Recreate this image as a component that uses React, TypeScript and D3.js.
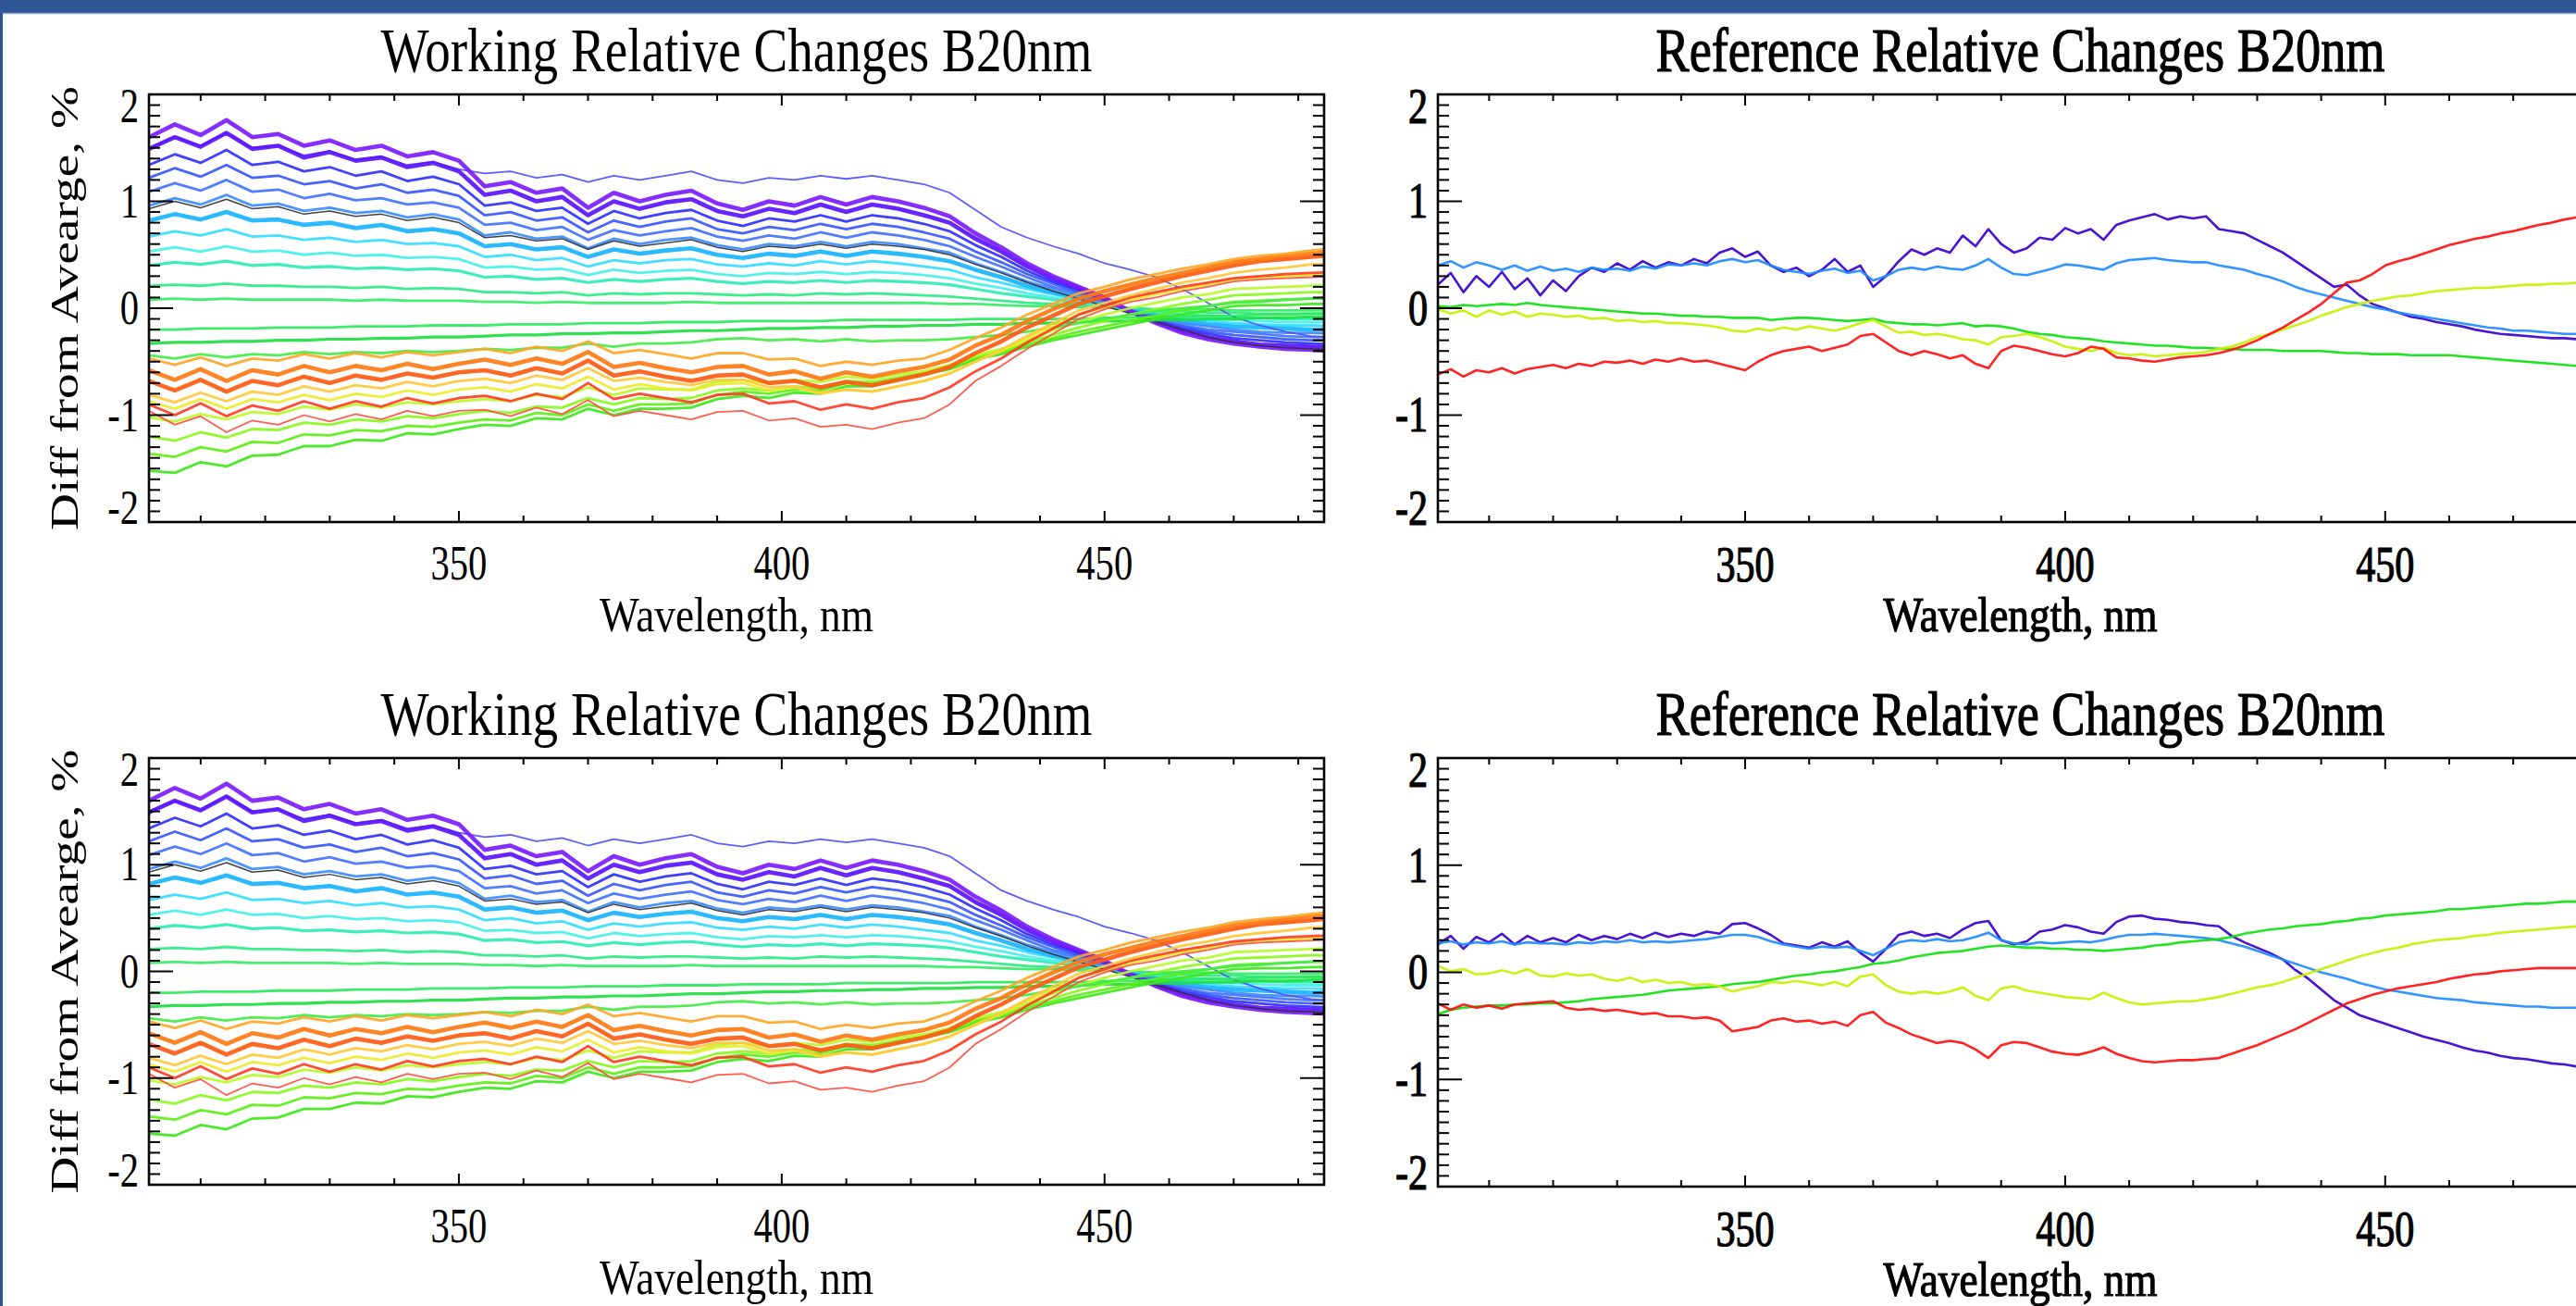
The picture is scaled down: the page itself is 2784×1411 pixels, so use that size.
import React from 'react';
import * as d3 from 'd3';

// sample grids, nm
const wlWork = d3.range(302, 487, 4);
const wlRef = d3.range(302, 481, 2);

// Working relative changes (hundredths of a percent), one array per curve
const work_u1 = [160,172,162,176,160,163,152,157,148,152,142,146,138,114,118,108,112,94,108,100,106,110,98,92,100,96,104,97,104,100,94,86,70,57,42,30,20,10,-3,-14,-23,-29,-33,-36,-38,-39,-40];
const work_u2 = [149,160,151,164,149,152,141,146,138,141,132,136,128,106,110,100,104,87,100,93,99,102,91,86,93,89,97,90,97,93,87,80,65,53,39,28,19,9,-3,-13,-21,-27,-31,-34,-35,-36,-37];
const work_u0 = [150,160,152,164,150,152,143,147,139,142,134,137,130,126,128,122,125,118,124,120,124,128,120,117,122,120,124,121,124,120,116,108,92,76,66,58,51,42,36,29,18,5,-8,-16,-22,-26,-28];
const work_u3 = [134,144,136,148,134,137,128,132,124,128,119,123,116,96,99,91,94,79,91,84,89,92,82,77,84,81,87,81,87,84,79,72,59,48,35,25,17,8,-3,-12,-19,-24,-28,-30,-32,-33,-34];
const work_u4 = [122,131,123,134,122,124,116,119,112,116,108,111,105,87,90,82,85,71,82,76,81,84,74,70,76,73,79,74,79,76,71,65,53,43,32,23,15,8,-2,-11,-17,-22,-25,-27,-29,-30,-30];
const work_u5 = [109,117,110,120,109,111,103,107,101,103,97,99,94,78,80,73,76,64,73,68,72,75,67,63,68,65,71,66,71,68,64,58,48,39,29,20,14,7,-2,-10,-16,-20,-22,-24,-26,-27,-27];
const work_u6 = [96,103,97,106,96,98,91,94,89,91,85,88,83,68,71,65,67,56,65,60,64,66,59,55,60,58,62,58,62,60,56,52,42,34,25,18,12,6,-2,-8,-14,-17,-20,-22,-23,-23,-24];
const work_u7 = [82,88,83,90,82,83,78,80,75,78,72,74,70,58,60,55,57,48,55,51,54,56,50,47,51,49,53,49,53,51,48,44,36,29,21,15,10,5,-2,-7,-12,-15,-17,-18,-19,-20,-20];
const work_u8 = [67,72,68,74,67,68,64,66,62,64,60,61,58,48,50,45,47,39,45,42,45,46,41,39,42,40,44,41,44,42,39,36,29,24,18,13,8,4,-1,-6,-10,-12,-14,-15,-16,-16,-17];
const work_u9 = [53,57,53,58,53,54,50,52,49,50,47,48,46,38,39,36,37,31,36,33,35,36,32,30,33,32,34,32,34,33,31,28,23,19,14,10,7,3,-1,-5,-8,-10,-11,-12,-13,-13,-13];
const work_u10 = [40,43,41,44,40,41,38,39,37,38,36,37,35,29,30,27,28,24,27,25,27,28,25,23,25,24,26,24,26,25,24,22,18,14,11,8,5,3,-1,-4,-6,-7,-8,-9,-10,-10,-10];
const work_u11 = [21,22,21,23,21,21,20,20,19,20,18,19,18,15,15,14,15,12,14,13,14,14,13,12,13,12,14,13,14,13,12,11,9,7,5,4,3,1,0,-2,-3,-4,-4,-5,-5,-5,-5];
const work_u12 = [8,9,8,9,8,8,8,8,7,8,7,7,7,6,6,5,6,5,5,5,5,6,5,5,5,5,5,5,5,5,5,4,4,3,2,2,1,1,0,-1,-1,-1,-2,-2,-2,-2,-2];
const work_avg = [93,100,94,102,93,95,88,91,86,88,82,85,80,66,68,63,65,55,63,58,61,64,57,53,58,56,60,56,60,58,55,50,41,33,24,16,9,2,-5,-13,-20,-27,-32,-35,-37,-38,-39];
const work_f1 = [-20,-20,-19,-19,-19,-18,-18,-18,-17,-17,-17,-16,-16,-16,-15,-15,-15,-14,-14,-14,-13,-13,-13,-12,-12,-12,-12,-11,-11,-11,-11,-11,-10,-10,-10,-10,-10,-9,-9,-8,-8,-7,-7,-6,-6,-5,-5];
const work_f2 = [-33,-32,-32,-31,-31,-30,-30,-29,-29,-28,-28,-27,-27,-26,-25,-25,-24,-24,-23,-23,-22,-21,-21,-20,-19,-19,-18,-18,-17,-17,-16,-16,-15,-15,-14,-14,-13,-12,-12,-11,-11,-10,-10,-9,-9,-8,-8];
const work_l1 = [-44,-47,-43,-46,-43,-44,-41,-43,-41,-42,-40,-41,-40,-38,-39,-37,-37,-33,-36,-33,-33,-32,-29,-28,-30,-29,-31,-29,-31,-30,-30,-29,-27,-25,-22,-18,-14,-10,-6,-3,0,2,5,6,8,9,10];
const work_l2 = [-47,-53,-46,-54,-47,-49,-43,-47,-42,-46,-41,-44,-41,-38,-42,-36,-40,-31,-42,-39,-43,-47,-42,-42,-48,-47,-54,-50,-53,-49,-47,-39,-28,-18,-6,4,14,20,27,32,37,41,46,49,51,54,56];
const work_l3 = [-58,-67,-57,-68,-58,-62,-54,-60,-54,-58,-52,-57,-52,-48,-53,-47,-52,-41,-55,-51,-56,-60,-55,-54,-62,-59,-66,-60,-64,-59,-55,-48,-35,-25,-12,-1,9,16,22,28,33,38,43,46,49,51,53];
const work_l4 = [-68,-77,-67,-78,-68,-72,-64,-70,-63,-67,-61,-65,-60,-58,-63,-56,-61,-49,-63,-59,-64,-68,-63,-62,-70,-68,-74,-69,-72,-67,-62,-55,-42,-31,-18,-7,4,11,18,24,30,35,40,44,46,48,50];
const work_l5 = [-81,-88,-79,-87,-78,-81,-73,-78,-72,-75,-69,-73,-68,-66,-70,-63,-67,-56,-68,-65,-69,-72,-67,-67,-74,-73,-79,-76,-78,-73,-68,-61,-50,-39,-26,-14,-2,5,12,18,24,28,33,36,38,41,42];
const work_l6 = [-90,-100,-89,-101,-91,-96,-87,-94,-87,-92,-84,-89,-84,-82,-87,-80,-85,-70,-85,-80,-84,-88,-81,-80,-89,-87,-95,-90,-94,-88,-84,-74,-59,-47,-32,-19,-6,2,10,15,20,24,28,30,32,33,34];
const work_l7 = [-96,-109,-101,-116,-105,-109,-100,-106,-99,-104,-96,-101,-96,-95,-101,-93,-99,-86,-101,-96,-100,-104,-97,-96,-105,-103,-111,-109,-113,-107,-103,-90,-68,-54,-38,-24,-10,-1,6,10,16,20,25,27,28,29,30];
const work_l8 = [-87,-94,-85,-94,-85,-88,-81,-86,-80,-83,-77,-81,-76,-74,-78,-71,-75,-64,-76,-71,-75,-77,-71,-70,-77,-74,-80,-76,-78,-73,-68,-61,-50,-40,-28,-17,-6,1,8,13,18,22,27,29,30,31,32];
const work_l9 = [-102,-106,-99,-104,-97,-99,-92,-95,-90,-93,-88,-90,-87,-85,-87,-81,-83,-74,-81,-75,-76,-76,-69,-67,-70,-67,-69,-64,-66,-62,-59,-53,-44,-38,-30,-21,-13,-6,0,5,10,13,18,19,20,21,22];
const work_l10 = [-120,-124,-116,-121,-113,-114,-107,-109,-104,-106,-101,-103,-99,-96,-98,-92,-93,-84,-90,-84,-85,-84,-77,-75,-77,-73,-75,-68,-69,-65,-61,-55,-45,-40,-32,-25,-18,-12,-6,-1,4,8,12,13,14,15,15];
const work_l11 = [-136,-139,-130,-134,-125,-126,-118,-119,-114,-115,-110,-111,-107,-104,-105,-98,-100,-90,-96,-90,-90,-89,-81,-78,-80,-76,-77,-70,-70,-65,-61,-55,-46,-41,-34,-28,-22,-17,-12,-7,-2,2,6,7,8,9,9];
const work_l12 = [-152,-154,-144,-148,-138,-137,-129,-129,-123,-124,-117,-118,-113,-109,-110,-103,-104,-94,-100,-94,-94,-93,-85,-82,-84,-79,-80,-73,-73,-67,-62,-57,-48,-43,-36,-30,-25,-20,-15,-10,-6,-2,2,3,3,4,4];

// Reference relative changes, top panel
const refTop_violet = [22,33,15,30,20,34,18,28,12,26,16,30,38,34,42,36,44,38,43,40,46,42,52,56,48,53,40,34,38,30,36,46,34,40,20,30,44,55,50,56,52,68,58,74,60,52,56,66,64,75,70,74,64,78,82,85,88,83,86,84,86,74,72,70,64,58,52,44,36,28,20,22,12,4,0,-4,-8,-10,-13,-15,-17,-20,-22,-24,-25,-26,-27,-28,-28,-29];
const refTop_blue = [40,44,38,43,40,36,40,35,39,35,37,34,38,36,37,35,39,37,41,40,42,40,44,46,43,45,40,36,34,32,35,37,33,35,26,30,36,38,36,39,37,36,40,46,38,32,31,34,37,41,40,38,36,42,45,46,47,45,44,43,43,40,38,36,32,29,25,20,16,13,10,7,4,1,-1,-4,-6,-8,-10,-12,-14,-16,-18,-19,-21,-21,-22,-23,-24,-24];
const refTop_green = [2,1,3,2,3,4,3,5,3,2,1,0,-1,-2,-3,-4,-5,-5,-6,-7,-7,-8,-8,-9,-9,-9,-11,-10,-9,-9,-10,-11,-12,-11,-10,-13,-14,-15,-15,-16,-15,-14,-17,-16,-17,-19,-22,-24,-25,-27,-28,-29,-31,-32,-33,-34,-35,-35,-36,-37,-37,-38,-38,-39,-39,-39,-40,-40,-40,-40,-41,-42,-42,-43,-43,-43,-44,-44,-44,-44,-45,-46,-47,-48,-49,-50,-51,-52,-53,-54];
const refTop_yellow = [-1,-5,-2,-8,-2,-6,-3,-8,-5,-6,-8,-7,-10,-9,-12,-11,-13,-12,-14,-14,-15,-16,-18,-21,-22,-19,-21,-18,-20,-17,-19,-21,-18,-14,-11,-17,-23,-22,-25,-24,-26,-29,-30,-34,-27,-26,-24,-27,-31,-36,-38,-40,-37,-42,-44,-43,-45,-44,-43,-42,-41,-38,-36,-32,-27,-24,-20,-16,-12,-7,-3,1,4,7,9,11,12,14,16,17,18,19,19,20,21,22,22,23,23,24];
const refTop_red = [-62,-57,-64,-58,-60,-56,-61,-57,-55,-53,-56,-52,-54,-50,-51,-49,-52,-48,-50,-47,-50,-49,-52,-55,-58,-50,-44,-40,-38,-36,-40,-37,-34,-26,-24,-32,-40,-44,-40,-43,-47,-44,-52,-56,-40,-35,-37,-40,-43,-45,-42,-36,-38,-46,-47,-49,-50,-48,-46,-45,-44,-42,-39,-35,-30,-24,-18,-11,-4,4,14,24,26,32,40,44,47,51,55,59,62,65,67,70,72,75,78,80,83,85];

// Reference relative changes, bottom panel
const refBot_violet = [26,34,22,33,28,36,26,34,28,32,28,35,30,34,31,36,32,37,33,36,34,38,36,45,46,41,35,27,25,23,28,24,29,18,10,22,35,38,34,36,32,40,46,48,30,26,29,38,40,44,42,38,36,47,52,53,50,49,47,46,44,43,34,28,23,18,12,2,-6,-16,-26,-33,-40,-44,-48,-52,-56,-60,-63,-66,-70,-73,-75,-78,-80,-81,-83,-85,-86,-88];
const refBot_blue = [27,29,26,28,27,29,26,28,27,27,26,28,27,29,28,30,28,29,28,29,30,31,33,35,35,33,29,26,24,22,24,23,24,20,16,22,28,30,29,31,29,30,33,37,30,27,26,28,27,28,29,28,30,33,35,35,36,35,34,33,32,30,27,24,20,16,12,8,4,0,-3,-6,-10,-13,-16,-18,-20,-22,-24,-25,-26,-28,-29,-30,-31,-32,-32,-33,-33,-33];
const refBot_green = [-39,-35,-33,-32,-31,-31,-30,-30,-29,-29,-28,-27,-25,-24,-23,-22,-21,-19,-17,-16,-15,-14,-13,-11,-10,-9,-7,-5,-3,-2,0,1,3,5,8,9,11,14,16,18,19,20,22,24,25,24,23,23,22,22,21,21,20,21,22,23,25,26,28,29,30,31,33,36,38,40,41,43,44,45,47,48,50,51,53,54,55,56,57,59,59,60,61,62,63,64,64,65,66,66];
const refBot_yellow = [6,1,3,-2,-1,2,-1,3,-3,-4,-1,-3,-2,-6,-8,-5,-9,-7,-10,-9,-12,-11,-13,-18,-15,-13,-9,-10,-8,-10,-12,-9,-13,-4,-2,-12,-18,-20,-18,-20,-18,-14,-22,-26,-15,-13,-17,-19,-21,-23,-24,-25,-19,-24,-28,-30,-29,-28,-27,-27,-25,-23,-20,-17,-14,-12,-9,-5,-1,3,7,11,15,18,21,23,26,28,30,31,32,34,35,37,38,39,40,41,42,43];
const refBot_red = [-29,-35,-30,-33,-31,-34,-30,-29,-28,-27,-33,-35,-34,-36,-35,-37,-39,-38,-41,-41,-43,-42,-45,-55,-53,-51,-45,-43,-46,-45,-48,-46,-50,-40,-37,-47,-52,-58,-62,-66,-64,-66,-72,-80,-68,-65,-66,-70,-74,-76,-77,-74,-70,-76,-80,-83,-84,-83,-82,-82,-81,-80,-76,-72,-68,-63,-58,-53,-47,-41,-35,-29,-25,-21,-18,-15,-13,-11,-9,-6,-4,-2,-1,1,2,3,4,4,4,4];

type Series = { vals: number[]; color: string; width: number };

const workSeries: Series[] = [
  { vals: work_u12, color: '#36ec66', width: 2.8 },
  { vals: work_u11, color: '#2aec86', width: 2.8 },
  { vals: work_u10, color: '#2cecb4', width: 3.2 },
  { vals: work_u9, color: '#45f0ea', width: 2.8 },
  { vals: work_u8, color: '#35dcff', width: 2.8 },
  { vals: work_u7, color: '#1ab4ff', width: 4.6 },
  { vals: work_u6, color: '#3c8cff', width: 2.8 },
  { vals: work_u5, color: '#4472ff', width: 2.8 },
  { vals: work_u4, color: '#3a56ff', width: 2.8 },
  { vals: work_u3, color: '#3030ff', width: 2.8 },
  { vals: work_u0, color: '#5050ff', width: 1.8 },
  { vals: work_u2, color: '#5a12ff', width: 4.6 },
  { vals: work_u1, color: '#7b1cff', width: 4.6 },
  { vals: work_avg, color: '#333333', width: 1.5 },
  { vals: work_f1, color: '#2ee85c', width: 2.8 },
  { vals: work_f2, color: '#1ede40', width: 3.2 },
  { vals: work_l12, color: '#3ce818', width: 2.8 },
  { vals: work_l11, color: '#5cf014', width: 2.8 },
  { vals: work_l10, color: '#88f81c', width: 2.8 },
  { vals: work_l9, color: '#b8fa2a', width: 2.8 },
  { vals: work_l1, color: '#44ec48', width: 2.8 },
  { vals: work_l8, color: '#ecec2c', width: 2.8 },
  { vals: work_l7, color: '#ff5040', width: 1.8 },
  { vals: work_l6, color: '#ff3c24', width: 2.8 },
  { vals: work_l5, color: '#ffc83a', width: 2.8 },
  { vals: work_l4, color: '#ff5a12', width: 4.6 },
  { vals: work_l3, color: '#ff7a14', width: 4.6 },
  { vals: work_l2, color: '#ffa628', width: 2.8 },
];

const refColors = ['#3a00d0', '#1e8cff', '#10e010', '#c8f000', '#ff1010'];
const refTopSeries: Series[] = [refTop_violet, refTop_blue, refTop_green, refTop_yellow, refTop_red]
  .map((vals, i) => ({ vals, color: refColors[i], width: 2.6 }));
const refBotSeries: Series[] = [refBot_violet, refBot_blue, refBot_green, refBot_yellow, refBot_red]
  .map((vals, i) => ({ vals, color: refColors[i], width: 2.6 }));

const SERIF = '"Liberation Serif", "Times New Roman", serif';

function Panel({ left, right, top, bottom, title, titleWidth, grid, series, yLabel, heavy, id }: any) {
  const x = d3.scaleLinear().domain([302, 484]).range([left, right]);
  const y = d3.scaleLinear().domain([-2, 2]).range([bottom, top]);
  const line = d3.line<number>().x((_, i) => x(grid[i])).y(d => y(d / 100));

  const xMajor = x.ticks(3);
  const xMinor = x.ticks(18).filter(t => !xMajor.includes(t));
  const yMajor = y.ticks(4);
  const yMinor = y.ticks(40).filter(t => Math.abs(t - Math.round(t)) > 1e-6);
  const cx = (left + right) / 2;
  const ink = heavy ? { stroke: '#000', strokeWidth: 1.2 } : {};
  const fs = heavy ? 54 : 52;

  return (
    <g fontFamily={SERIF} fill="#000">
      <defs>
        <clipPath id={id}>
          <rect x={left} y={top} width={right - left} height={bottom - top} />
        </clipPath>
      </defs>
      <g clipPath={`url(#${id})`} fill="none" strokeLinejoin="round" strokeLinecap="round">
        {series.map((s: Series, i: number) => (
          <path key={i} d={line(s.vals) || ''} stroke={s.color} strokeWidth={s.width} strokeOpacity={0.92} />
        ))}
      </g>

      <g stroke="#000" strokeWidth={2}>
        {yMinor.map(t => (
          <g key={'ym' + t}>
            <line x1={left} x2={left + 12} y1={y(t)} y2={y(t)} />
            <line x1={right} x2={right - 12} y1={y(t)} y2={y(t)} />
          </g>
        ))}
        {yMajor.map(t => (
          <g key={'yM' + t}>
            <line x1={left} x2={left + 26} y1={y(t)} y2={y(t)} />
            <line x1={right} x2={right - 26} y1={y(t)} y2={y(t)} />
          </g>
        ))}
        {xMinor.map(t => (
          <g key={'xm' + t}>
            <line x1={x(t)} x2={x(t)} y1={bottom} y2={bottom - 7} />
            <line x1={x(t)} x2={x(t)} y1={top} y2={top + 7} />
          </g>
        ))}
        {xMajor.map(t => (
          <g key={'xM' + t}>
            <line x1={x(t)} x2={x(t)} y1={bottom} y2={bottom - 12} />
            <line x1={x(t)} x2={x(t)} y1={top} y2={top + 12} />
          </g>
        ))}
      </g>
      <rect x={left} y={top} width={right - left} height={bottom - top} fill="none" stroke="#000" strokeWidth={2.6} />

      {yMajor.map(t => {
        const c = Math.min(Math.max(y(t), top + 13), bottom - 15);
        return (
          <text key={'yl' + t} {...ink} fontSize={fs} textAnchor="end"
            transform={`translate(${left - 11},${c + fs * 0.33}) scale(0.78,1)`}>{t}</text>
        );
      })}
      {xMajor.map(t => (
        <text key={'xl' + t} {...ink} fontSize={fs} textAnchor="middle"
          transform={`translate(${x(t)},${bottom + (heavy ? 64 : 62)}) scale(0.78,1)`}>{t}</text>
      ))}

      <text {...ink} x={cx} y={top - 25} fontSize={68} textAnchor="middle"
        textLength={titleWidth} lengthAdjust="spacingAndGlyphs">{title}</text>
      <text {...ink} x={cx} y={bottom + 118} fontSize={53} textAnchor="middle"
        textLength={296} lengthAdjust="spacingAndGlyphs">Wavelength, nm</text>
      {yLabel && (
        <text fontSize={43} textAnchor="middle" textLength={480} lengthAdjust="spacingAndGlyphs"
          transform={`translate(84,${(top + bottom) / 2}) rotate(-90)`}>Diff from Avearge, %</text>
      )}
    </g>
  );
}

export default function App() {
  return (
    <svg width={2784} height={1411} style={{ position: 'absolute', left: 0, top: 0, background: '#fff' }}>
      <rect x={0} y={0} width={2784} height={1411} fill="#fff" />
      <rect x={0} y={0} width={2784} height={14} fill="#2f5597" />
      <line x1={0} x2={2784} y1={14.5} y2={14.5} stroke="#8faadc" strokeWidth={1.5} />
      <rect x={0} y={0} width={3} height={1411} fill="#2f5597" />

      <Panel id="c1" left={161} right={1431} top={102} bottom={564}
        title="Working Relative Changes B20nm" titleWidth={769}
        grid={wlWork} series={workSeries} yLabel heavy={false} />
      <Panel id="c2" left={161} right={1431} top={819} bottom={1280}
        title="Working Relative Changes B20nm" titleWidth={769}
        grid={wlWork} series={workSeries} yLabel heavy={false} />
      <Panel id="c3" left={1554} right={2813} top={102} bottom={564}
        title="Reference Relative Changes B20nm" titleWidth={788}
        grid={wlRef} series={refTopSeries} yLabel={false} heavy />
      <Panel id="c4" left={1554} right={2813} top={819} bottom={1282}
        title="Reference Relative Changes B20nm" titleWidth={788}
        grid={wlRef} series={refBotSeries} yLabel={false} heavy />
    </svg>
  );
}
